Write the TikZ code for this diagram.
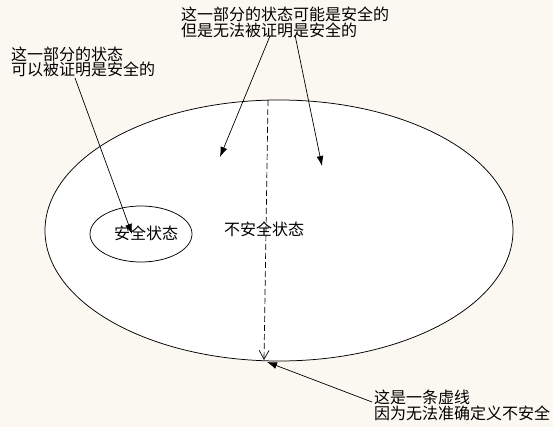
\documentclass[tikz,border=0pt]{standalone}
\usepackage{fontspec}
\newfontfamily\cjk{Noto Sans CJK SC}
\usetikzlibrary{arrows.meta}
\definecolor{bgcol}{RGB}{251,248,241}
\tikzset{
  lbl/.style={inner sep=0pt, anchor=base west, align=left,
    font=\cjk\fontsize{16}{15.5}\selectfont},
  region/.style={draw=black, fill=white, line width=0.75pt},
  ptr/.style={draw=black, line width=0.7pt, -{Latex[length=10pt,width=7pt]}},
  dashptr/.style={draw=black, line width=0.7pt, dash pattern=on 6pt off 3pt,
    -{Straight Barb[length=9pt,width=10pt]}}
}
\begin{document}
\begin{tikzpicture}[x=1pt,y=-1pt]
\fill[bgcol] (0,0) rectangle (553,427);
\useasboundingbox (0,0) rectangle (553,427);
% regions
\path[region] (279,230.5) ellipse [x radius=234, y radius=130.5];
\path[region] (141,234) ellipse [x radius=51, y radius=28];
\node[lbl] (safe) at (114,240) {安全状态};
\node[lbl] (unsafe) at (224,236) {不安全状态};
% labels (anchor = baseline of the last line)
\node[lbl] (top) at (181,36.5) {这一部分的状态可能是安全的\\但是无法被证明是安全的};
\node[lbl] (left) at (11,76) {这一部分的状态\\可以被证明是安全的};
\node[lbl] (bot) at (374,419) {这是一条虚线\\因为无法准确定义不安全};
% coordinates
\coordinate (t1s) at (270,36);
\coordinate (t1e) at (220,157);
\coordinate (t2s) at (295,35);
\coordinate (t2e) at (322,166);
\coordinate (ls) at (75,78);
\coordinate (le) at (132,234);
\coordinate (ds) at (268,100);
\coordinate (de) at (264,360);
\coordinate (bs) at (372,402);
\coordinate (be) at (267,362);
% connectors
\draw[ptr] (t1s) -- (t1e);
\draw[ptr] (t2s) -- (t2e);
\draw[ptr] (ls) -- (le);
\draw[dashptr] (ds) -- (de);
\draw[ptr] (bs) -- (be);
\end{tikzpicture}
\end{document}
